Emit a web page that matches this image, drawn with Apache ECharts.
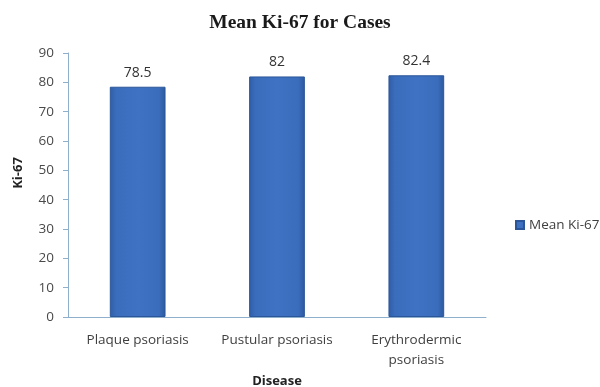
<!DOCTYPE html>
<html>
<head>
<meta charset="utf-8">
<script src="https://cdn.jsdelivr.net/npm/echarts@6/dist/echarts.min.js"></script>
<style>
  html, body { margin: 0; padding: 0; background: #ffffff; }
  #chart { width: 600px; height: 387px; }
</style>
</head>
<body>
<div id="chart"></div>
<script>
// Mean Ki-67 by disease type
const categories = ['Plaque psoriasis', 'Pustular psoriasis', 'Erythrodermic\npsoriasis'];
const meanKi67 = [78.5, 82, 82.4];
const seriesName = 'Mean Ki-67';

const chart = echarts.init(document.getElementById('chart'));

// Bars shaded darker toward their left and right edges
const barFill = new echarts.graphic.LinearGradient(0, 0, 1, 0, [
  { offset: 0, color: '#2f5ea8' },
  { offset: 0.12, color: '#3b6dbd' },
  { offset: 0.5, color: '#3f72c2' },
  { offset: 0.88, color: '#3b6dbd' },
  { offset: 1, color: '#2c599f' }
]);

const axisColor = '#8fb0cc';
const labelFont = 'Open Sans';

chart.setOption({
  animation: false,
  backgroundColor: '#ffffff',
  title: {
    text: 'Mean Ki-67 for Cases',
    left: 'center',
    top: 8,
    textStyle: {
      fontFamily: 'Liberation Serif',
      fontWeight: 'bold',
      fontSize: 19.5,
      color: '#1a1a1a'
    }
  },
  legend: {
    orient: 'vertical',
    left: 510,
    top: 213,
    itemWidth: 8,
    itemHeight: 8,
    itemGap: 4,
    icon: 'rect',
    textStyle: { fontFamily: labelFont, fontSize: 13.5, color: '#404040' },
    data: [seriesName]
  },
  grid: { left: 68, right: 114, top: 53, bottom: 70, outerBoundsMode: 'none', containLabel: false },
  xAxis: {
    type: 'category',
    data: categories,
    name: 'Disease',
    nameLocation: 'middle',
    nameGap: 58,
    nameTextStyle: { fontFamily: labelFont, fontWeight: 'bold', fontSize: 13, color: '#222' },
    axisLine: { lineStyle: { color: axisColor } },
    axisTick: { show: false },
    axisLabel: {
      interval: 0,
      margin: 13,
      lineHeight: 20,
      fontFamily: labelFont,
      fontSize: 13.5,
      color: '#404040'
    }
  },
  yAxis: {
    type: 'value',
    min: 0,
    max: 90,
    interval: 10,
    name: 'Ki-67',
    nameLocation: 'middle',
    nameGap: 43,
    nameTextStyle: {
      fontFamily: labelFont,
      fontWeight: 'bold',
      fontSize: 13,
      color: '#222',
      padding: [0, 0, 0, 24]
    },
    axisLine: { show: true, lineStyle: { color: axisColor } },
    axisTick: { show: true, length: 5, lineStyle: { color: axisColor } },
    splitLine: { show: false },
    axisLabel: {
      margin: 14,
      fontFamily: labelFont,
      fontSize: 13.5,
      color: '#4a4a4a'
    }
  },
  series: [{
    name: seriesName,
    type: 'bar',
    data: meanKi67,
    barWidth: '40%',
    itemStyle: {
      color: barFill,
      borderColor: '#2b5699',
      borderWidth: 1
    },
    label: {
      show: true,
      position: 'top',
      distance: 7,
      fontFamily: labelFont,
      fontSize: 14,
      color: '#333'
    }
  }]
});
</script>
</body>
</html>
